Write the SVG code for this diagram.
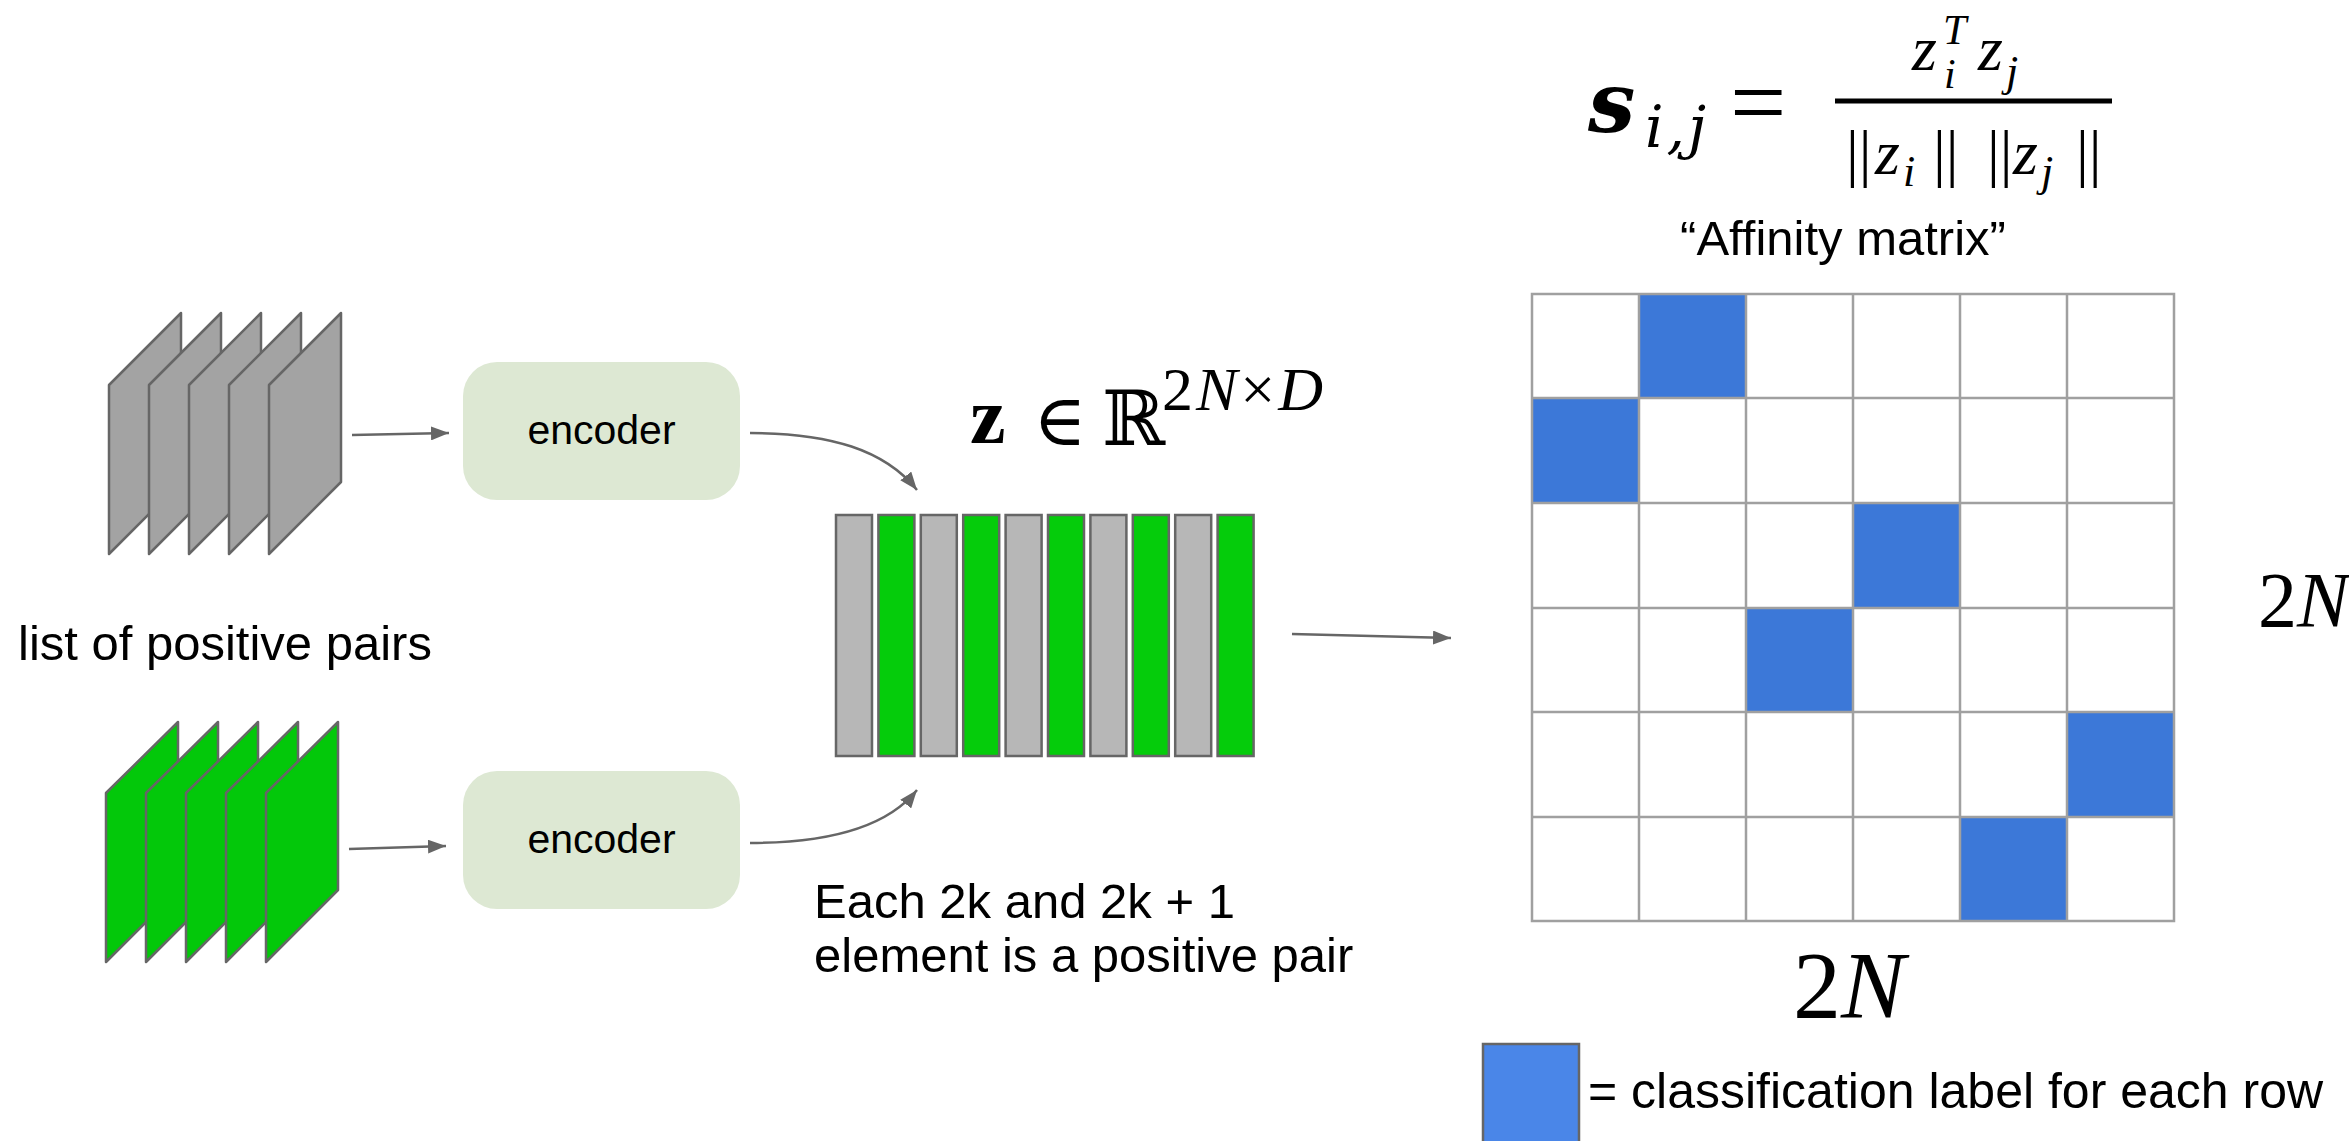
<svg xmlns="http://www.w3.org/2000/svg" width="2349" height="1141" viewBox="0 0 2349 1141">
<style>
.sans{font-family:"Liberation Sans",Arial,sans-serif;fill:#000}
.m{font-family:"Liberation Serif","DejaVu Serif",serif;fill:#000}
.dj{font-family:"DejaVu Serif","Liberation Serif",serif;fill:#000}
.it{font-style:italic}
.conn{fill:none;stroke:#666;stroke-width:2.5}
.gs{fill:#a3a3a3;stroke:#666;stroke-width:2.5;stroke-linejoin:round}
.gn{fill:#03c80a;stroke:#666;stroke-width:2.5;stroke-linejoin:round}
.vg{fill:#b7b7b7;stroke:#666;stroke-width:2.5}
.vn{fill:#05cc0b;stroke:#666;stroke-width:2.5}
.enc{fill:#dde8d3}
.blue{fill:#3c78d8}
.grid{fill:none;stroke:#a0a0a0;stroke-width:2.5}
</style>
<defs>
<marker id="ah" markerUnits="userSpaceOnUse" markerWidth="20" markerHeight="14" refX="18" refY="7" orient="auto">
<path d="M0,0 L18,7 L0,14 Z" fill="#666"/>
</marker>
</defs>
<rect width="2349" height="1141" fill="#fff"/>

<g id="stack-gray">
<polygon class="gs" points="109,385 181,313 181,482 109,554"/>
<polygon class="gs" points="149,385 221,313 221,482 149,554"/>
<polygon class="gs" points="189,385 261,313 261,482 189,554"/>
<polygon class="gs" points="229,385 301,313 301,482 229,554"/>
<polygon class="gs" points="269,385 341,313 341,482 269,554"/>
</g>

<g id="stack-green">
<polygon class="gn" points="106,793 178,722 178,890 106,962"/>
<polygon class="gn" points="146,793 218,722 218,890 146,962"/>
<polygon class="gn" points="186,793 258,722 258,890 186,962"/>
<polygon class="gn" points="226,793 298,722 298,890 226,962"/>
<polygon class="gn" points="266,793 338,722 338,890 266,962"/>
</g>

<g id="label-pairs">
<text class="sans" x="18" y="660" font-size="49">list of positive pairs</text>
</g>

<g id="encoder-top">
<rect class="enc" x="463" y="362" width="277" height="138" rx="34"/>
<text class="sans" x="601.5" y="444" font-size="41" text-anchor="middle">encoder</text>
</g>

<g id="encoder-bottom">
<rect class="enc" x="463" y="771" width="277" height="138" rx="34"/>
<text class="sans" x="601.5" y="853" font-size="41" text-anchor="middle">encoder</text>
</g>

<g id="vector">
<rect class="vg" x="836" y="515" width="36" height="241"/>
<rect class="vn" x="878.4" y="515" width="36" height="241"/>
<rect class="vg" x="920.8" y="515" width="36" height="241"/>
<rect class="vn" x="963.2" y="515" width="36" height="241"/>
<rect class="vg" x="1005.6" y="515" width="36" height="241"/>
<rect class="vn" x="1048" y="515" width="36" height="241"/>
<rect class="vg" x="1090.4" y="515" width="36" height="241"/>
<rect class="vn" x="1132.8" y="515" width="36" height="241"/>
<rect class="vg" x="1175.2" y="515" width="36" height="241"/>
<rect class="vn" x="1217.6" y="515" width="36" height="241"/>
</g>

<g id="z-formula">
<text class="m" x="970" y="443" font-size="80" font-weight="bold">z</text>
<text class="m" x="1033" y="445" font-size="72">∈</text>
<text class="m" x="1102" y="445" font-size="76">ℝ</text>
<text class="m" x="1162" y="410" font-size="62" letter-spacing="3">2<tspan class="it">N</tspan>×<tspan class="it">D</tspan></text>
</g>

<g id="label-pair-rule">
<text class="sans" x="814" y="918" font-size="49">Each 2k and 2k + 1</text>
<text class="sans" x="814" y="972" font-size="49">element is a positive pair</text>
</g>

<g id="similarity-formula">
<text class="dj it" x="1588" y="132" font-size="84" font-weight="bold">s</text>
<text class="dj it" x="1645" y="147" font-size="58" letter-spacing="3">i,j</text>
<text class="m" x="1730" y="136" font-size="100">=</text>
<line x1="1835" y1="101" x2="2112" y2="101" stroke="#000" stroke-width="5"/>
<text class="m it" x="1912" y="70" font-size="64">z</text>
<text class="m it" x="1943" y="44" font-size="42">T</text>
<text class="m it" x="1944" y="88" font-size="42">i</text>
<text class="m it" x="1978" y="70" font-size="64">z</text>
<text class="m it" x="2006" y="86" font-size="44">j</text>
<text class="m" x="1846" y="174" font-size="64">||</text>
<text class="m it" x="1875" y="174" font-size="64">z</text>
<text class="m it" x="1903" y="186" font-size="44">i</text>
<text class="m" x="1933" y="174" font-size="64">||</text>
<text class="m" x="1987" y="174" font-size="64">||</text>
<text class="m it" x="2013" y="174" font-size="64">z</text>
<text class="m it" x="2041" y="186" font-size="44">j</text>
<text class="m" x="2076" y="174" font-size="64">||</text>
<text class="sans" x="1843" y="255" font-size="49" text-anchor="middle">“Affinity matrix”</text>
</g>

<g id="affinity-matrix">
<rect x="1532" y="294" width="642" height="627" fill="#fff"/>
<rect class="blue" x="1639" y="294" width="107" height="104"/>
<rect class="blue" x="1532" y="398" width="107" height="105"/>
<rect class="blue" x="1853" y="503" width="107" height="105"/>
<rect class="blue" x="1746" y="608" width="107" height="104"/>
<rect class="blue" x="2067" y="712" width="107" height="105"/>
<rect class="blue" x="1960" y="817" width="107" height="104"/>
<path class="grid" d="M1532,294 H2174 V921 H1532 Z M1639,294 V921 M1746,294 V921 M1853,294 V921 M1960,294 V921 M2067,294 V921 M1532,398 H2174 M1532,503 H2174 M1532,608 H2174 M1532,712 H2174 M1532,817 H2174"/>
</g>

<g id="dim-labels">
<text class="m" x="2258" y="626" font-size="78">2<tspan class="it">N</tspan></text>
<text class="m" x="1793" y="1018" font-size="96">2<tspan class="it">N</tspan></text>
</g>

<g id="legend">
<rect x="1483" y="1044" width="96" height="110" fill="#4a86e8" stroke="#666" stroke-width="2.5"/>
<text class="sans" x="1588" y="1108" font-size="50">= classification label for each row</text>
</g>

<g id="connectors">
<path class="conn" d="M352,435 L449,433" marker-end="url(#ah)"/>
<path class="conn" d="M349,849 L446,846" marker-end="url(#ah)"/>
<path class="conn" d="M750,433 C830,433 885,450 917,490" marker-end="url(#ah)"/>
<path class="conn" d="M750,843 C830,843 888,826 917,790" marker-end="url(#ah)"/>
<path class="conn" d="M1292,634 L1451,638" marker-end="url(#ah)"/>
</g>
</svg>
